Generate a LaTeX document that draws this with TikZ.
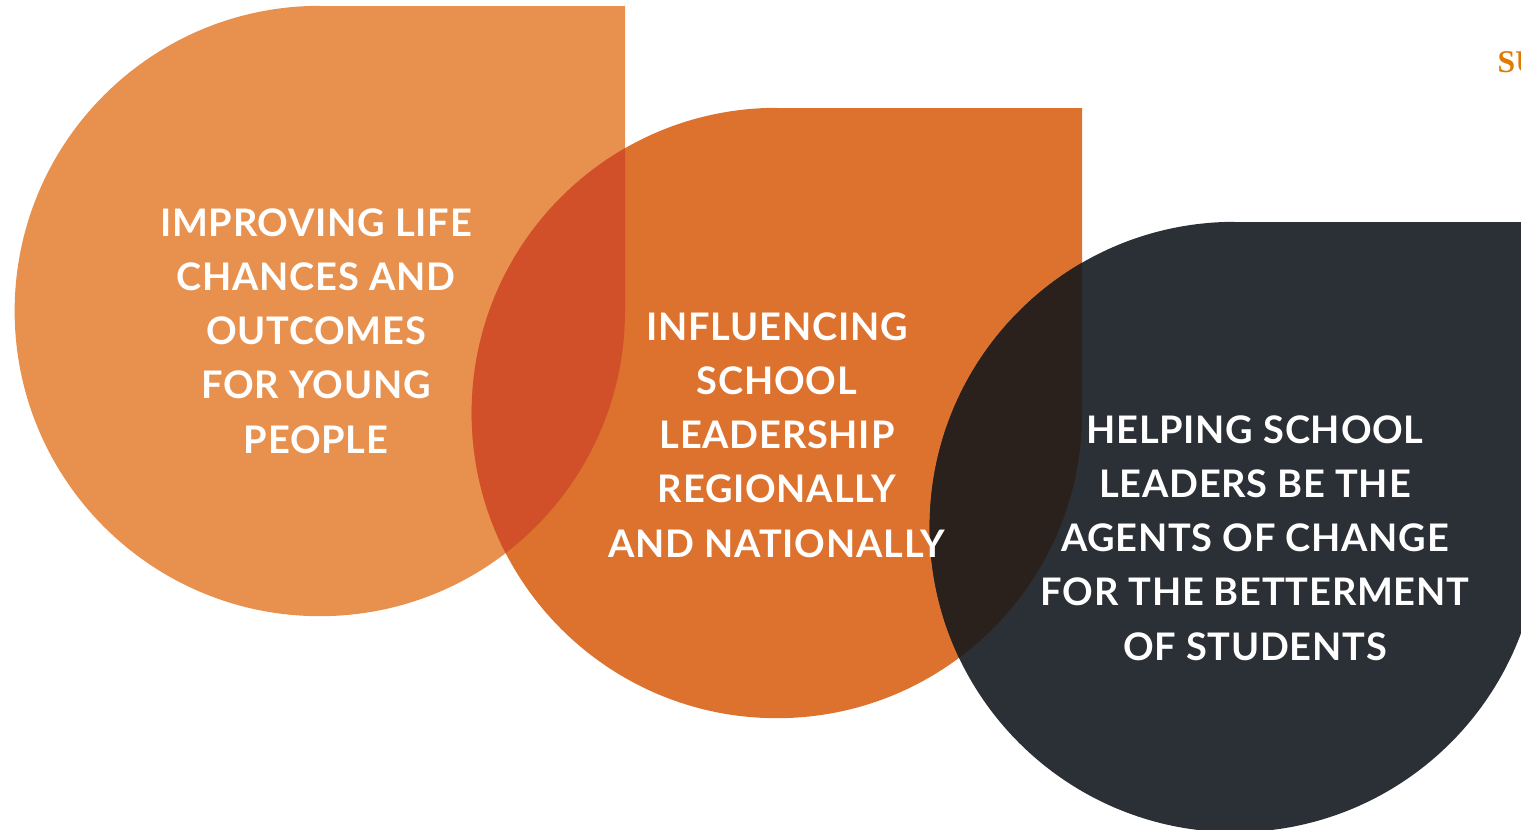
\documentclass[tikz,border=0pt]{standalone}
\usepackage{fontspec}
\setmainfont{Lato}
\newfontfamily\aimfont{Lato}[LetterSpace=2]
\newfontfamily\logofont{Liberation Serif}
\definecolor{dropA}{HTML}{E8914F}
\definecolor{dropB}{HTML}{DC722E}
\definecolor{dropC}{HTML}{2B2F36}
\definecolor{overAB}{HTML}{D25029}
\definecolor{overBC}{HTML}{2A201C}
\definecolor{logo}{HTML}{E07B00}
% drop shape: circle with the upper right quarter squared off
\newcommand{\dropPath}[1]{(#1) ++(0,305) -- ++(305,0) -- ++(0,-305)
  arc[start angle=0,end angle=-270,radius=3.05cm] -- cycle}
\begin{document}
\begin{tikzpicture}[x=0.01cm,y=0.01cm,
    aim/.style={text=white,align=center,font=\aimfont\bfseries\fontsize{10.8}{15.4}\selectfont}]
    \useasboundingbox (0,0) rectangle (1521,829);
    \clip (0,0) rectangle (1521,829);
    \coordinate (c1) at (320,518);
    \coordinate (c2) at (777,416);
    \coordinate (c3) at (1235,302);

    \fill[dropA] \dropPath{c1};
    \fill[dropB] \dropPath{c2};
    \fill[dropC] \dropPath{c3};
    \begin{scope}
      \clip \dropPath{c1};
      \fill[overAB] \dropPath{c2};
    \end{scope}
    \begin{scope}
      \clip \dropPath{c2};
      \fill[overBC] \dropPath{c3};
    \end{scope}

    \node[aim] (t1) at (316,498) {IMPROVING LIFE\\CHANCES AND\\OUTCOMES\\FOR YOUNG\\PEOPLE};
    \node[aim] (t2) at (777,394) {INFLUENCING\\SCHOOL\\LEADERSHIP\\REGIONALLY\\AND NATIONALLY};
    \node[aim] (t3) at (1255,291) {HELPING SCHOOL\\LEADERS BE THE\\AGENTS OF CHANGE\\FOR THE BETTERMENT\\OF STUDENTS};
    \node[anchor=base west,inner sep=0,text=logo,font=\logofont\bfseries\fontsize{9}{9}\selectfont]
      (su) at (1497,757) {SU};
\end{tikzpicture}
\end{document}
